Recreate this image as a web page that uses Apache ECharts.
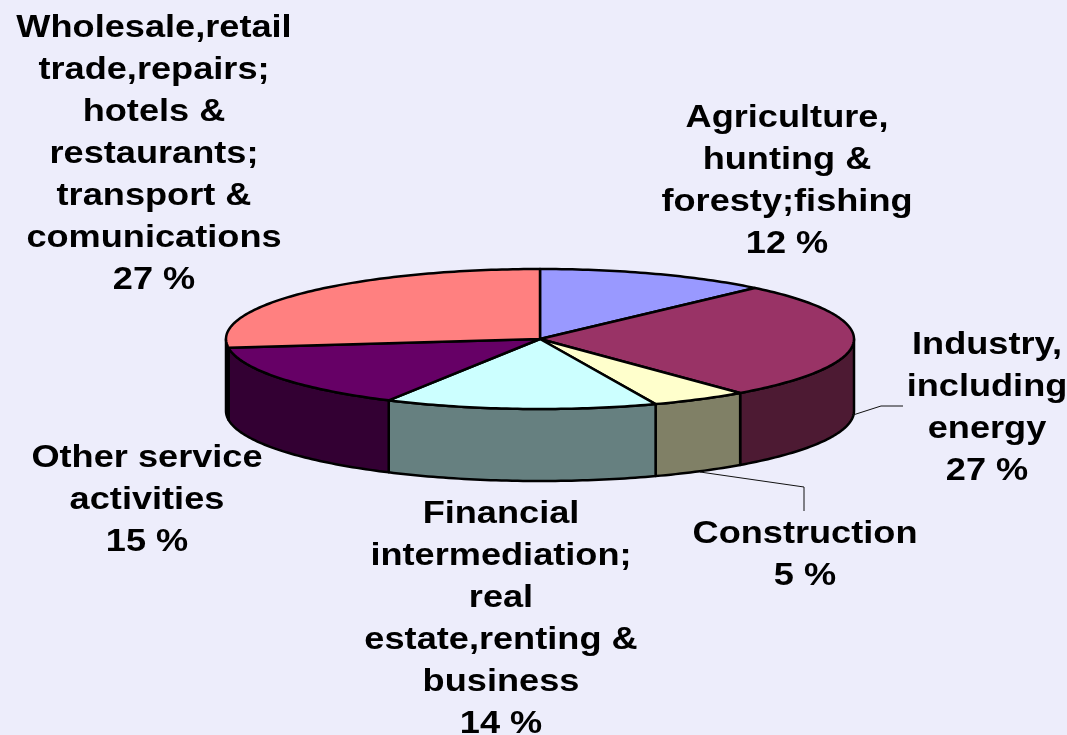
<!DOCTYPE html>
<html>
<head>
<meta charset="utf-8">
<style>html,body{margin:0;padding:0;background:#EDEDFB}#c{width:1067px;height:735px}</style>
<script src="https://cdn.jsdelivr.net/npm/echarts@6/dist/echarts.min.js"></script>
</head>
<body>
<div id="c"></div>
<script>
const categories = [
  "Agriculture,\nhunting &\nforesty;fishing",
  "Industry,\nincluding\nenergy",
  "Construction",
  "Financial\nintermediation;\nreal\nestate,renting &\nbusiness",
  "Other service\nactivities",
  "Wholesale,retail\ntrade,repairs;\nhotels &\nrestaurants;\ntransport &\ncomunications"
];
const values = [12, 27, 5, 14, 15, 27];
const topColors = ["#9999FF", "#993366", "#FFFFCC", "#CCFFFF", "#660066", "#FF8080"];
const sideColors = ["#4D4D80", "#4D1A33", "#808066", "#668080", "#330033", "#804040"];

// layout only
const cx = 540, cy = 339, rx = 314, ry = 70, depth = 72;
const labelCenters = [[787, 181], [987, 408], [805, 555], [501, 619], [147, 500], [154, 154]];
const leaders = [null, [[853, 415], [881, 406], [903, 406]], [[700, 472], [804, 487], [804, 511]], null, null, null];
const textStretch = 1.13, fontSize = 32, lineH = 42;

const total = values.reduce((a, b) => a + b, 0);
const pt = (deg, dy) => {
  const r = deg * Math.PI / 180;
  return [cx + rx * Math.sin(r), cy - ry * Math.cos(r) + dy];
};
function arc(a0, a1, dy) {
  const out = [];
  const n = Math.max(2, Math.ceil(Math.abs(a1 - a0)));
  for (let i = 0; i <= n; i++) out.push(pt(a0 + (a1 - a0) * i / n, dy));
  return out;
}
let cum = [0];
values.forEach(v => cum.push(cum[cum.length - 1] + v));

function sideItem(params, api) {
  const i = api.value(0);
  const a0 = cum[i] / total * 360, a1 = cum[i + 1] / total * 360;
  const s = Math.max(a0, 90), e = Math.min(a1, 270);
  if (s >= e) return { type: 'group', children: [] };
  const top = arc(s, e, 0), bottom = arc(e, s, depth);
  return {
    type: 'polygon', z2: 1,
    shape: { points: top.concat(bottom) },
    style: { fill: sideColors[i], stroke: '#000', lineWidth: 2.5, lineJoin: 'round' }
  };
}
function topItem(params, api) {
  const i = api.value(0);
  const a0 = cum[i] / total * 360, a1 = cum[i + 1] / total * 360;
  const kids = [{
    type: 'polygon', z2: 2,
    shape: { points: [[cx, cy]].concat(arc(a0, a1, 0)) },
    style: { fill: topColors[i], stroke: '#000', lineWidth: 2.5, lineJoin: 'round' }
  }];
  if (leaders[i]) kids.push({
    type: 'polyline', z2: 0,
    shape: { points: leaders[i] },
    style: { fill: null, stroke: '#111', lineWidth: 1 }
  });
  kids.push({
    type: 'text', z2: 3,
    x: labelCenters[i][0], y: labelCenters[i][1], scaleX: textStretch,
    style: {
      text: categories[i] + "\n" + api.value(1) + " %",
      fill: '#000', align: 'center', verticalAlign: 'middle',
      font: 'bold ' + fontSize + 'px "Liberation Sans", Arial, sans-serif',
      lineHeight: lineH
    }
  });
  return { type: 'group', children: kids };
}
const rows = values.map((v, i) => [i, v]);
const chart = echarts.init(document.getElementById('c'), null, { renderer: 'canvas' });
chart.setOption({
  animation: false,
  backgroundColor: '#EDEDFB',
  series: [
    { type: 'custom', coordinateSystem: 'none', data: rows, renderItem: sideItem, z: 1, silent: true },
    { type: 'custom', coordinateSystem: 'none', data: rows, renderItem: topItem, z: 2, silent: true }
  ]
});
</script>
</body>
</html>
